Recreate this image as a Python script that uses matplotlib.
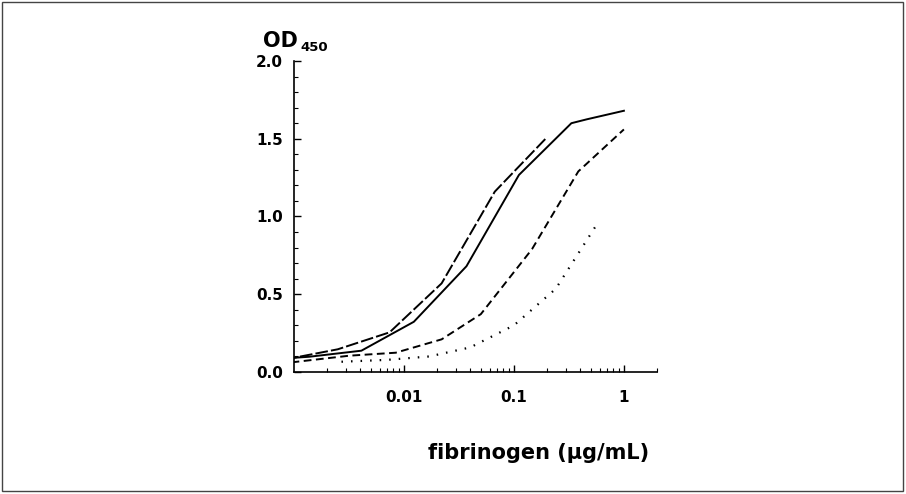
import matplotlib
matplotlib.use("Agg")
import matplotlib.pyplot as plt
from matplotlib.patches import Rectangle
from matplotlib.ticker import FixedLocator, MultipleLocator, LogLocator, NullFormatter

plt.rcParams['font.family'] = ['DejaVu Sans']

# fibrinogen (ug/mL) vs OD450, four curves
solid_x = [0.00046, 0.00137, 0.0041, 0.0123, 0.037, 0.111, 0.333, 0.46, 1.0]
solid_y = [0.075, 0.098, 0.137, 0.323, 0.68, 1.267, 1.60, 1.625, 1.68]

longdash_x = [0.00082, 0.0025, 0.0074, 0.022, 0.067, 0.2]
longdash_y = [0.08, 0.146, 0.255, 0.57, 1.16, 1.51]

meddash_x = [0.00095, 0.0032, 0.0084, 0.022, 0.05, 0.146, 0.385, 1.0]
meddash_y = [0.062, 0.105, 0.124, 0.21, 0.372, 0.79, 1.29, 1.56]

dotted_x = [0.0027, 0.007, 0.017, 0.04, 0.1, 0.24, 0.58]
dotted_y = [0.066, 0.078, 0.1, 0.158, 0.30, 0.535, 0.96]

xticks = [0.01, 0.1, 1]
xtick_labels = ["0.01", "0.1", "1"]
yticks = [0.0, 0.5, 1.0, 1.5, 2.0]
ytick_labels = ["0.0", "0.5", "1.0", "1.5", "2.0"]

fig = plt.figure(figsize=(9.06, 4.94), dpi=100)
ax = fig.add_axes([294 / 906, 1 - 372 / 494, 363 / 906, 311 / 494])

ax.plot(solid_x, solid_y, color='black', lw=1.4)
ax.plot(longdash_x, longdash_y, color='black', lw=1.4, dashes=(6.5, 1.6))
ax.plot(meddash_x, meddash_y, color='black', lw=1.4, dashes=(4.0, 2.3))
ax.plot(dotted_x, dotted_y, color='black', lw=1.6, dashes=(0.7, 3.6))

ax.set_xscale('log')
ax.set_xlim(0.001, 2.0)
ax.set_ylim(0, 2.0)

ax.xaxis.set_major_locator(FixedLocator(xticks))
ax.set_xticklabels(xtick_labels)
ax.xaxis.set_minor_locator(LogLocator(base=10, subs=range(2, 10)))
ax.xaxis.set_minor_formatter(NullFormatter())
ax.set_yticks(yticks)
ax.set_yticklabels(ytick_labels)
ax.yaxis.set_minor_locator(MultipleLocator(0.1))

ax.tick_params(which='major', direction='in', length=5, width=1)
ax.tick_params(which='minor', direction='in', length=3, width=0.8)
ax.tick_params(axis='x', pad=13)
ax.tick_params(axis='y', pad=8)
for lab in ax.get_xticklabels() + ax.get_yticklabels():
    lab.set_fontweight('bold')
    lab.set_fontsize(11)

ax.spines['top'].set_visible(False)
ax.spines['right'].set_visible(False)
ax.spines['left'].set_linewidth(1.2)
ax.spines['bottom'].set_linewidth(1.2)

fig.text(263 / 906, 1 - 47 / 494, "OD", fontsize=15, fontweight='bold', ha='left', va='baseline')
fig.text(300 / 906, 1 - 51 / 494, "450", fontsize=9.5, fontweight='bold', ha='left', va='baseline')
fig.text(539 / 906, 1 - 453 / 494, "fibrinogen (\u00b5g/mL)", fontsize=15, fontweight='bold',
         ha='center', va='center')

fig.patches.append(Rectangle((0.002, 0.006), 0.995, 0.99, transform=fig.transFigure,
                             fill=False, edgecolor='#444444', lw=1))

fig.savefig("out.png", dpi=100)
